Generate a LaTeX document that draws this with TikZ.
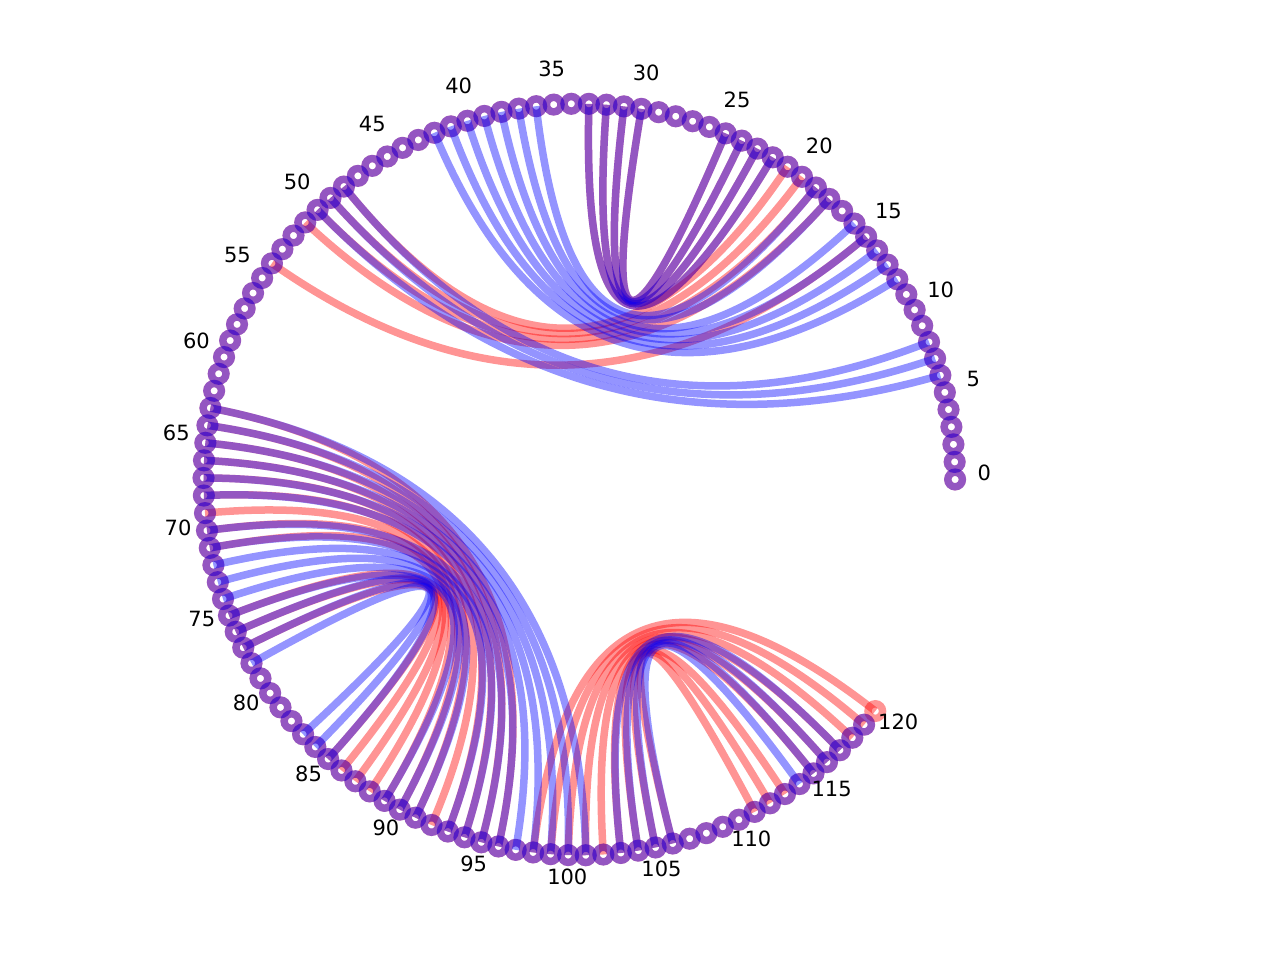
\documentclass[tikz,border=0pt]{standalone}
\usepackage{fontspec}
\setmainfont{DejaVu Sans}
\usetikzlibrary{calc}
\begin{document}
\begin{tikzpicture}[x=1pt,y=-1pt,
  redge/.style={draw=red, draw opacity=0.42, line width=7.5pt},
  bedge/.style={draw=blue, draw opacity=0.42, line width=7.5pt},
  rring/.style={draw=red, draw opacity=0.42, line width=7.4pt},
  bring/.style={draw=blue, draw opacity=0.42, line width=7.4pt},
  lbl/.style={font=\fontsize{21}{21}\selectfont, inner sep=0pt, anchor=center}]
\useasboundingbox (0,0) rectangle (1280,960);
\coordinate (ctr) at (579.3,479.5);
\foreach \i in {0,...,120}{
  \coordinate (n\i) at ({579.3+375.8*cos(\i*2.683)},{479.5-375.8*sin(\i*2.683)});
}
% red structure
\foreach \a/\b in {15/54,18/51,19/50,20/49,21/48,22/33,23/32,24/31,25/30,
  63/96,64/95,65/94,66/93,67/92,68/91,69/90,70/89,71/88,75/87,76/86,77/85,
  98/120,99/119,100/118,101/117,102/116,103/115,104/113,105/112,106/111}{
  \draw[redge] (n\a) .. controls ($(n\a)!0.6667!(ctr)$) and ($(n\b)!0.6667!(ctr)$) .. (n\b);
}
\foreach \i in {0,...,120}{
  \draw[rring] (n\i) circle[radius=7.3];
}
% blue structure
\foreach \a/\b in {6/50,7/49,8/48,12/42,13/41,14/40,15/39,16/38,18/37,19/36,22/33,23/32,24/31,25/30,
  63/101,64/100,65/99,66/98,67/97,68/96,70/95,71/94,72/93,73/91,74/90,75/89,76/85,77/84,78/83,
  103/117,104/116,105/115,106/114}{
  \draw[bedge] (n\a) .. controls ($(n\a)!0.6667!(ctr)$) and ($(n\b)!0.6667!(ctr)$) .. (n\b);
}
\foreach \i in {0,...,119}{
  \draw[bring] (n\i) circle[radius=7.3];
}
% labels
\foreach \i in {0,5,...,120}{
  \node[lbl] (l\i) at ({579.3+405*cos(\i*2.683)},{472.5-405*sin(\i*2.683)}) {\i};
}
\end{tikzpicture}
\end{document}
